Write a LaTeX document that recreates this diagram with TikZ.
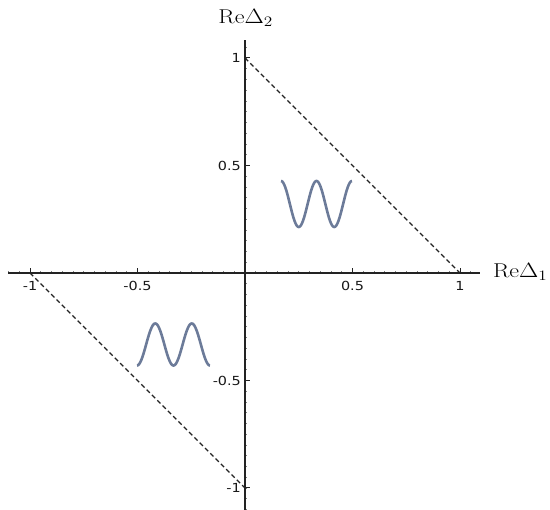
\documentclass[tikz,border=0pt]{standalone}
\usepackage{fontspec}
\newfontfamily\tickfont{DejaVu Sans}
\definecolor{wave}{RGB}{108,123,153}
\definecolor{axisgray}{RGB}{35,35,35}
\tikzset{
  axisline/.style={draw=axisgray, line width=1.5pt},
  majortick/.style={draw=axisgray, line width=1pt},
  minortick/.style={draw=gray, line width=0.7pt},
  diag/.style={draw=axisgray, line width=1.4pt, dash pattern=on 4.5pt off 3pt},
  wavy/.style={draw=wave, line width=2.6pt},
  ticklab/.style={font=\fontsize{12.5}{14}\tickfont, text=black!90, inner sep=0pt},
  axislab/.style={font=\fontsize{20}{24}\selectfont, inner sep=0pt}
}
\begin{document}
\begin{tikzpicture}[x=1pt,y=-1pt]
\useasboundingbox (0,0) rectangle (550,510);
\begin{scope}[shift={(245,273)}, x=215pt, y=215pt]
  % minor ticks
  \foreach \v in {-1.1,-1.05,...,1.06}
    \draw[minortick] (\v,0) -- ++(0,2pt);
  \foreach \v in {-1.1,-1.05,...,1.06}
    \draw[minortick] (0,\v) -- ++(2pt,0);
  % axes
  \coordinate (xl0) at (-1.102,0);
  \coordinate (xr0) at (1.093,0);
  \coordinate (yb0) at (0,-1.102);
  \coordinate (yt0) at (0,1.084);
  \draw[axisline] (xl0) -- (xr0);
  \draw[axisline] (yb0) -- (yt0);
  % major ticks and labels
  \foreach \v/\t in {-1/-1,-0.5/-0.5,0.5/0.5,1/1} {
    \draw[majortick] (\v,0) -- ++(0,5pt);
    \node[ticklab] (tx\v) at ([yshift=-13pt]\v,0) {\scalebox{1.15}[1]{\t}};
    \draw[majortick] (0,\v) -- ++(5pt,0);
    \node[ticklab, anchor=east] (ty\v) at ([xshift=-4pt]0,\v) {\scalebox{1.15}[1]{\t}};
  }
  % dashed boundaries
  \coordinate (p1) at (0,1);
  \coordinate (p2) at (1,0);
  \coordinate (p3) at (-1,0);
  \coordinate (p4) at (0,-1);
  \draw[diag] (p1) -- (p2);
  \draw[diag] (p3) -- (p4);
  % axis labels
  \node[axislab] (lx) at (1.28,0.005) {\scalebox{1.2}[1]{$\mathrm{Re}\Delta_1$}};
  \node[axislab] (ly) at (0.003,1.185) {\scalebox{1.2}[1]{$\mathrm{Re}\Delta_2$}};
\end{scope}
% waves (pixel coordinates)
\draw[wavy, domain=0:71, samples=120, smooth, variable=\t]
  plot ({281+\t}, {204 - 23*cos(10.1408*\t)});
\draw[wavy, domain=0:73, samples=120, smooth, variable=\t]
  plot ({137+\t}, {344.5 + 21*cos(9.8630*\t)});
\end{tikzpicture}
\end{document}
